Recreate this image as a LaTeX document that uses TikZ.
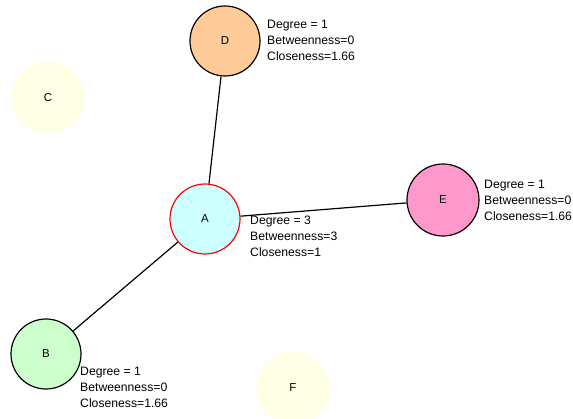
\documentclass[tikz,border=0pt]{standalone}
\usepackage{fontspec}
\setmainfont{Liberation Sans}
\begin{document}
\begin{tikzpicture}[x=1pt,y=-1pt,
  vertex/.style={circle,draw=black,line width=1.2pt,minimum size=70pt,inner sep=0pt,font=\fontsize{11.5}{13}\selectfont},
  ghost/.style={circle,draw=none,fill=ghostfill,minimum size=73pt,inner sep=0pt,font=\fontsize{11.5}{13}\selectfont},
  stats/.style={anchor=west,align=left,inner sep=0pt,font=\fontsize{12.2}{16}\selectfont},
  link/.style={draw=black,line width=1.2pt}]
\definecolor{ghostfill}{HTML}{FFFFE6}
\definecolor{afill}{HTML}{CCFFFF}
\definecolor{bfill}{HTML}{CCFFCC}
\definecolor{dfill}{HTML}{FFCC99}
\definecolor{efill}{HTML}{FF99CC}
\useasboundingbox (0,0) rectangle (573,419);
\fill[white] (0,0) rectangle (573,419);

% isolated vertices
\node[ghost] (C) at (48,98) {C};
\node[ghost] (F) at (293,388) {F};

% connected vertices
\node[vertex,fill=afill,draw=red] (A) at (205,219) {A};
\node[vertex,fill=bfill] (B) at (46,354) {B};
\node[vertex,fill=dfill] (D) at (225,41) {D};
\node[vertex,fill=efill,minimum size=72pt] (E) at (443,200) {E};

% edges
\draw[link] (A) -- (D);
\draw[link] (A) -- (E);
\draw[link] (A) -- (B);

% centrality annotations
\node[stats] (sD) at (267,40) {Degree = 1\\Betweenness=0\\Closeness=1.66};
\node[stats] (sA) at (250,236) {Degree = 3\\Betweenness=3\\Closeness=1};
\node[stats] (sE) at (484,200) {Degree = 1\\Betweenness=0\\Closeness=1.66};
\node[stats] (sB) at (80,387) {Degree = 1\\Betweenness=0\\Closeness=1.66};
\end{tikzpicture}
\end{document}
